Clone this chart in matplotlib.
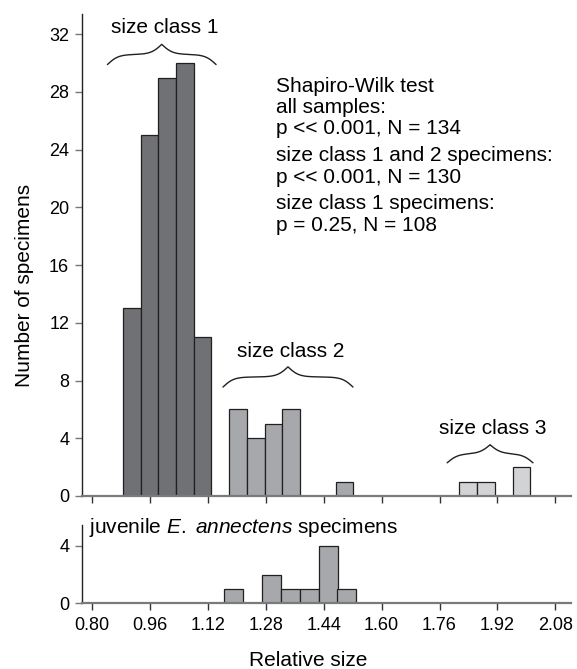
import numpy as np
import matplotlib.pyplot as plt

plt.rcParams['font.family'] = ['Liberation Sans', 'DejaVu Sans']
plt.rcParams['mathtext.fontset'] = 'custom'
plt.rcParams['mathtext.rm'] = 'Liberation Sans'
plt.rcParams['mathtext.it'] = 'Liberation Sans:italic'

# all specimens: left bin edges (relative size) and counts
bin_width = 0.049
class1_bins = [0.886, 0.935, 0.984, 1.033, 1.081]
class1_counts = [13, 25, 29, 30, 11]
class2_bins = [1.179, 1.228, 1.277, 1.326, 1.473]
class2_counts = [6, 4, 5, 6, 1]
class3_bins = [1.815, 1.864, 1.962]
class3_counts = [1, 1, 2]

# juvenile E. annectens specimens
juv_width = 0.0523
juv_bins = [1.166, 1.270, 1.322, 1.374, 1.426, 1.478]
juv_counts = [1, 2, 1, 1, 4, 1]

xticks = [0.80, 0.96, 1.12, 1.28, 1.44, 1.60, 1.76, 1.92, 2.08]
xtick_labels = ['0.80', '0.96', '1.12', '1.28', '1.44', '1.60', '1.76', '1.92', '2.08']
top_yticks = [0, 4, 8, 12, 16, 20, 24, 28, 32]
juv_yticks = [0, 4]

stats_lines = ['Shapiro-Wilk test', 'all samples:', 'p << 0.001, N = 134',
               'size class 1 and 2 specimens:', 'p << 0.001, N = 130',
               'size class 1 specimens:', 'p = 0.25, N = 108']

W, H = 577, 669
EDGE = '#231f20'
FS = 15


def px(x, y):
    return x / W, 1 - y / H


def brace(ax, x0, x1, y0, y1, beta):
    t = np.linspace(0, 0.5, 200)
    half = 1 / (1 + np.exp(-beta * t)) + 1 / (1 + np.exp(-beta * (t - 0.5))) - 0.5
    yy = np.concatenate([half, half[-2::-1]])
    tt = np.linspace(0, 1, len(yy))
    ax.plot(x0 + (x1 - x0) * tt, y0 + (y1 - y0) * yy, color=EDGE, lw=1.0,
            clip_on=False, solid_capstyle='round')


def style_axes(ax, yticks):
    ax.spines['top'].set_visible(False)
    ax.spines['right'].set_visible(False)
    ax.spines['left'].set_color('#222222')
    ax.spines['left'].set_linewidth(1.0)
    ax.spines['bottom'].set_color('#7a7a7a')
    ax.spines['bottom'].set_linewidth(1.6)
    ax.set_xlim(0.772, 2.122)
    ax.set_xticks(xticks)
    ax.set_yticks(yticks)
    ax.tick_params(axis='both', direction='out', length=5, width=1.0,
                   color='#333333', labelsize=13)
    ax.tick_params(axis='x', pad=5)
    ax.tick_params(axis='y', pad=4, color='#777777')


fig = plt.figure(figsize=(W / 100, H / 100), dpi=100)
ax1 = fig.add_axes([0.1416, 0.2586, 0.8474, 0.7204])
ax2 = fig.add_axes([0.1416, 0.0982, 0.8474, 0.1170])

ax1.bar(class1_bins, class1_counts, width=bin_width, align='edge',
        color='#707175', edgecolor=EDGE, linewidth=0.9)
ax1.bar(class2_bins, class2_counts, width=bin_width, align='edge',
        color='#a6a8ab', edgecolor=EDGE, linewidth=0.9)
ax1.bar(class3_bins, class3_counts, width=bin_width, align='edge',
        color='#d2d3d5', edgecolor=EDGE, linewidth=0.9)
style_axes(ax1, top_yticks)
ax1.set_ylim(0, 33.4)
ax1.set_xticklabels([])

# size class brackets
brace(ax1, 0.843, 1.143, 29.9, 31.3, 20)
ax1.text(1.0, 32.5, 'size class 1', fontsize=FS, ha='center', va='center')
brace(ax1, 1.162, 1.521, 7.55, 8.95, 24)
ax1.text(1.348, 9.98, 'size class 2', fontsize=FS, ha='center', va='center')
brace(ax1, 1.781, 2.018, 2.3, 3.55, 16)
ax1.text(1.908, 4.71, 'size class 3', fontsize=FS, ha='center', va='center')

baselines = [92, 113, 134, 161, 183, 209, 231]
for line, yb in zip(stats_lines, baselines):
    fig.text(*px(276, yb), line, fontsize=FS, ha='left', va='baseline')

ax2.bar(juv_bins, juv_counts, width=juv_width, align='edge',
        color='#a6a8ab', edgecolor=EDGE, linewidth=0.9)
style_axes(ax2, juv_yticks)
ax2.set_ylim(0, 5.45)
ax2.set_xticklabels(xtick_labels)

fig.text(*px(89, 533), r'juvenile $\mathit{E.}$ $\mathit{annectens}$ specimens',
         fontsize=FS, ha='left', va='baseline')
fig.text(*px(308, 666.5), 'Relative size', fontsize=FS, ha='center', va='baseline')
fig.text(*px(25, 285), 'Number of specimens', fontsize=FS, ha='center',
         va='center', rotation=90)

fig.savefig('out.png', dpi=100)
